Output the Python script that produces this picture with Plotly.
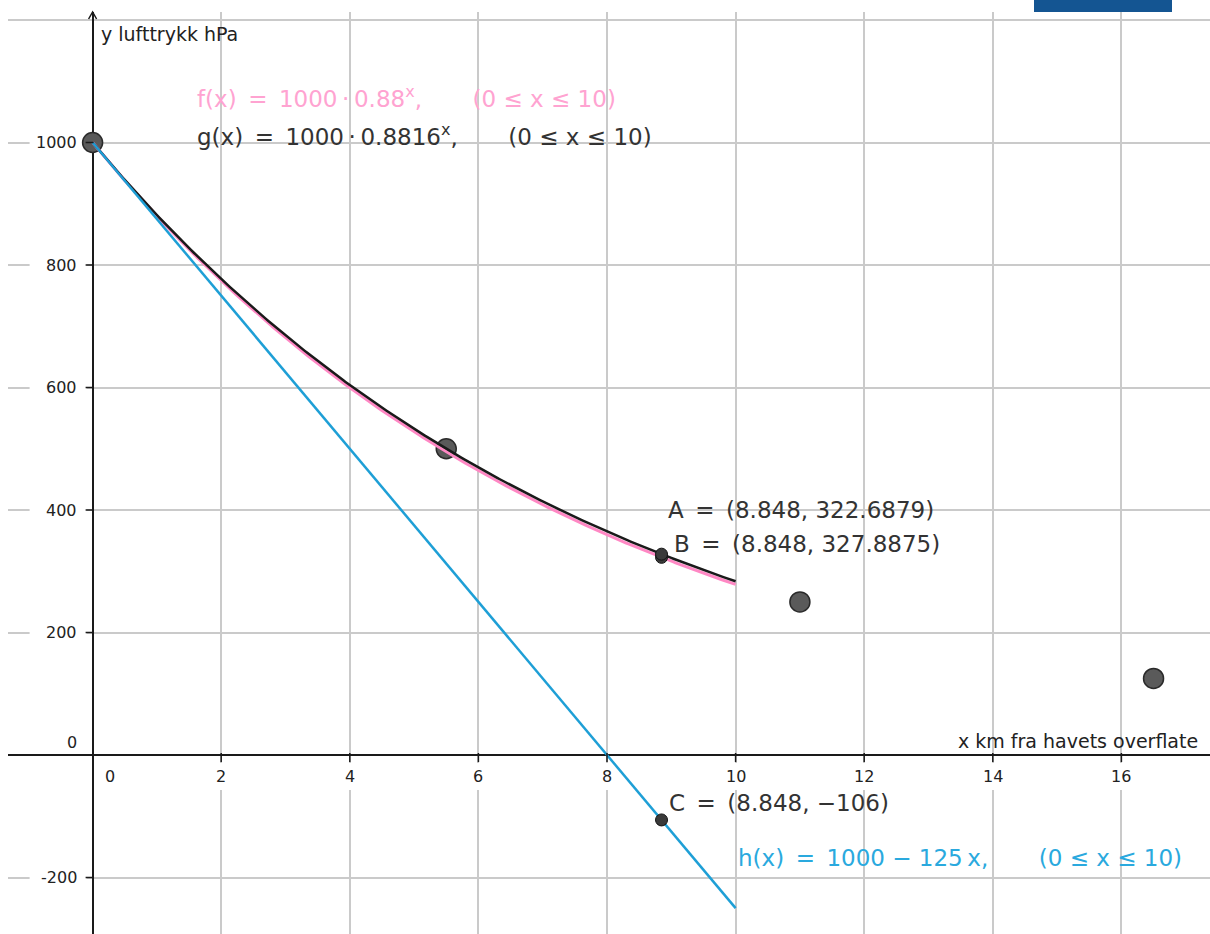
import numpy as np
import plotly.graph_objects as go

# ---------------- data ----------------
point_x = [0, 5.5, 11, 16.5]
point_y = [1000, 500, 250, 125]

f_start, f_base = 1000, 0.88
g_start, g_base = 1000, 0.8816
h_start, h_slope = 1000, -125
domain_min, domain_max = 0, 10

marked_x = 8.848
A_y = 322.6879
B_y = 327.8875
C_y = -106

x_ticks = [2, 4, 6, 8, 10, 12, 14, 16]
y_ticks = [-200, 200, 400, 600, 800, 1000]

x_title = "x km fra havets overflate"
y_title = "y lufttrykk hPa"

# --------------- curves ----------------
xs = np.linspace(domain_min, domain_max, 301)
f_y = f_start * f_base ** xs
g_y = g_start * g_base ** xs
h_y = h_start + h_slope * xs

PINK = "#FF88C4"
PINK_TXT = "#FFA3D1"
BLUE = "#1E9FD6"
BLUE_TXT = "#2AA9DE"
DARK = "#1a1a1a"
TXT = "#333333"
FONT = "DejaVu Sans"

fig = go.Figure()

# big data points (under the curves)
fig.add_trace(go.Scatter(x=point_x, y=point_y, mode="markers",
                         marker=dict(size=20, color="#5a5a5a",
                                     line=dict(color="#2a2a2a", width=1.5)),
                         hoverinfo="skip", showlegend=False))

fig.add_trace(go.Scatter(x=xs, y=f_y, mode="lines",
                         line=dict(color=PINK, width=3), showlegend=False))
fig.add_trace(go.Scatter(x=xs, y=g_y, mode="lines",
                         line=dict(color=DARK, width=2.5), showlegend=False))
fig.add_trace(go.Scatter(x=xs, y=h_y, mode="lines",
                         line=dict(color=BLUE, width=2.5), showlegend=False))

# small marked points A, B, C
fig.add_trace(go.Scatter(x=[marked_x] * 3, y=[A_y, B_y, C_y], mode="markers",
                         marker=dict(size=12, color="#3a3a3a",
                                     line=dict(color="#111111", width=1)),
                         hoverinfo="skip", showlegend=False))

shapes = []
annotations = []

tick_font = dict(family=FONT, size=16, color="#222222")

# x tick labels with white gap in gridlines
for v in x_ticks:
    shapes.append(dict(type="rect", layer="between", xref="x", yref="y",
                       xsizemode="pixel", xanchor=v, x0=-16, x1=16,
                       ysizemode="pixel", yanchor=0, y0=-8, y1=-35,
                       fillcolor="white", line=dict(width=0)))
    shapes.append(dict(type="line", xref="x", yref="y",
                       xsizemode="pixel", xanchor=v, x0=0, x1=0,
                       ysizemode="pixel", yanchor=0, y0=2, y1=-7,
                       line=dict(color=DARK, width=1.5)))
    annotations.append(dict(x=v, y=0, xref="x", yref="y", text=str(v),
                            showarrow=False, xanchor="center", yanchor="middle",
                            yshift=-21, font=tick_font))

# y tick labels
for v in y_ticks:
    shapes.append(dict(type="rect", layer="between", xref="x", yref="y",
                       xsizemode="pixel", xanchor=0, x0=-63, x1=-6,
                       ysizemode="pixel", yanchor=v, y0=-9, y1=9,
                       fillcolor="white", line=dict(width=0)))
    shapes.append(dict(type="line", xref="x", yref="y",
                       xsizemode="pixel", xanchor=0, x0=-7, x1=1,
                       ysizemode="pixel", yanchor=v, y0=0, y1=0,
                       line=dict(color=DARK, width=1.5)))
    annotations.append(dict(x=0, y=v, xref="x", yref="y", text=str(v),
                            showarrow=False, xanchor="right", yanchor="middle",
                            xshift=-14, font=tick_font))

# origin labels
annotations.append(dict(x=0, y=0, xref="x", yref="y", text="0", showarrow=False,
                        xanchor="left", yanchor="middle", xshift=10, yshift=-21,
                        font=tick_font))
annotations.append(dict(x=0, y=0, xref="x", yref="y", text="0", showarrow=False,
                        xanchor="right", yanchor="bottom", xshift=-14, yshift=1,
                        font=tick_font))

# axis arrow at top of y axis
shapes.append(dict(type="path", xref="x", yref="paper",
                   xsizemode="pixel", xanchor=0, ysizemode="pixel", yanchor=1,
                   path="M -4,-7 L 0,0 L 4,-7",
                   line=dict(color=DARK, width=1.5)))

# blue bar at top right
shapes.append(dict(type="rect", xref="paper", yref="paper",
                   x0=(1034 - 8) / 1202, x1=(1172 - 8) / 1202,
                   y0=1, y1=1 + 13 / 922,
                   fillcolor="#145592", line=dict(width=0)))

# axis titles
annotations.append(dict(x=0, y=1, xref="x", yref="paper", text=y_title,
                        showarrow=False, xanchor="left", yanchor="top",
                        xshift=6, yshift=-9,
                        font=dict(family=FONT, size=19, color="#222222")))
annotations.append(dict(x=1, y=0, xref="paper", yref="y", text=x_title,
                        showarrow=False, xanchor="right", yanchor="bottom",
                        xshift=-10, yshift=1,
                        font=dict(family=FONT, size=19, color="#222222")))

# formula labels
SP = "\u2002"
Q = "\u2003\u2003\u2009"
LE = "\u00a0≤\u00a0"
big = dict(family=FONT, size=23)
f_text = f"f(x){SP}={SP}{f_start}\u2009·\u2009{f_base}<sup>x</sup>,{Q}(0{LE}x{LE}{domain_max})"
g_text = f"g(x){SP}={SP}{g_start}\u2009·\u2009{g_base}<sup>x</sup>,{Q}(0{LE}x{LE}{domain_max})"
h_text = f"h(x){SP}={SP}{h_start} − {abs(h_slope)}\u2009x,{Q}(0{LE}x{LE}{domain_max})"
annotations.append(dict(x=1.6, y=1074, xref="x", yref="y", text=f_text,
                        showarrow=False, xanchor="left", yanchor="middle",
                        font=dict(big, color=PINK_TXT)))
annotations.append(dict(x=1.6, y=1012, xref="x", yref="y", text=g_text,
                        showarrow=False, xanchor="left", yanchor="middle",
                        font=dict(big, color=TXT)))
annotations.append(dict(x=domain_max, y=-168, xref="x", yref="y", text=h_text,
                        showarrow=False, xanchor="left", yanchor="middle",
                        xshift=0, font=dict(big, color=BLUE_TXT)))


def fmt(v):
    return str(v).replace("-", "−")


annotations.append(dict(x=marked_x, y=A_y, xref="x", yref="y",
                        text=f"A{SP}={SP}({marked_x}, {fmt(A_y)})",
                        showarrow=False, xanchor="left", yanchor="middle",
                        xshift=4, yshift=47, font=dict(big, color=TXT)))
annotations.append(dict(x=marked_x, y=B_y, xref="x", yref="y",
                        text=f"B{SP}={SP}({marked_x}, {fmt(B_y)})",
                        showarrow=False, xanchor="left", yanchor="middle",
                        xshift=10, yshift=10, font=dict(big, color=TXT)))
annotations.append(dict(x=marked_x, y=C_y, xref="x", yref="y",
                        text=f"C{SP}={SP}({marked_x}, {fmt(C_y)})",
                        showarrow=False, xanchor="left", yanchor="middle",
                        xshift=5, yshift=17, font=dict(big, color=TXT)))

x_px_per_unit = 64.3
y_px_per_unit = 0.6125
fig.update_layout(
    width=1210, height=934, autosize=False,
    margin=dict(l=8, r=0, t=12, b=0, pad=0),
    paper_bgcolor="white", plot_bgcolor="white",
    xaxis=dict(range=[-(92.6 - 8) / x_px_per_unit, (1210 - 92.6) / x_px_per_unit],
               showgrid=True, gridcolor="#CACACA", gridwidth=2,
               tick0=0, dtick=2, showticklabels=False, ticks="",
               zeroline=True, zerolinecolor=DARK, zerolinewidth=2,
               showline=False, fixedrange=True),
    yaxis=dict(range=[-(934 - 755) / y_px_per_unit, (755 - 12) / y_px_per_unit],
               showgrid=True, gridcolor="#CACACA", gridwidth=2,
               tick0=0, dtick=200, showticklabels=False, ticks="",
               zeroline=True, zerolinecolor=DARK, zerolinewidth=2,
               showline=False, fixedrange=True),
    shapes=shapes, annotations=annotations, showlegend=False,
)

fig.write_html("out.html", config={"displayModeBar": False},
               post_script="document.body.style.margin='0';document.body.style.overflow='hidden';")
